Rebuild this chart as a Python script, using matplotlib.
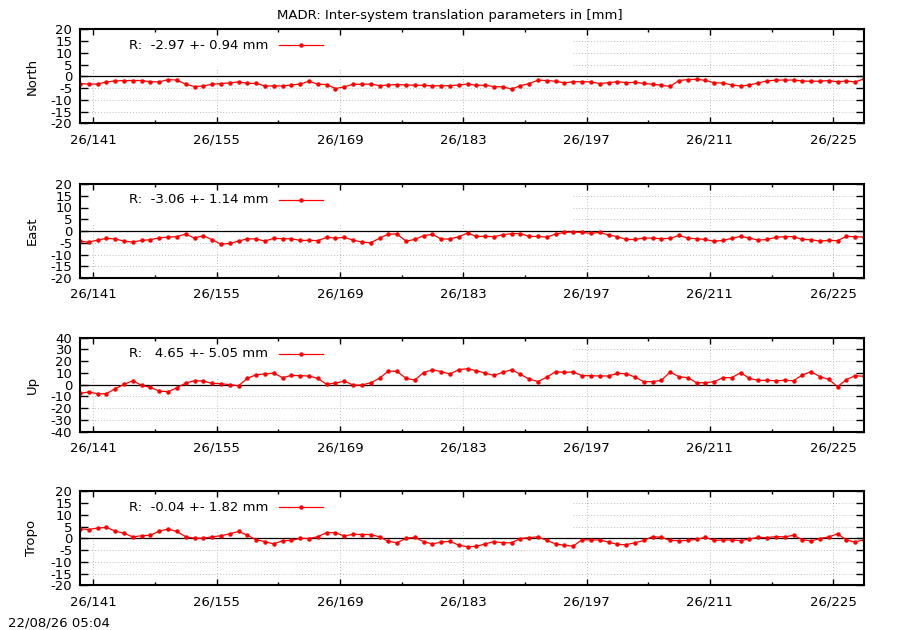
import matplotlib
matplotlib.use('Agg')
import matplotlib.pyplot as plt
import numpy as np
from matplotlib.patches import Rectangle
from matplotlib.lines import Line2D

plt.rcParams['font.family'] = ['DejaVu Sans']
FS = 9.5
plt.rcParams['font.size'] = FS

# ---------------- data ----------------
doy = np.arange(139, 229) + 0.5   # day of year (noon epochs), 2026

north = [-3.1, -3.3, -3.3, -2.4, -2.0, -1.8, -1.8, -1.8, -2.3, -2.4,
         -1.4, -1.6, -3.3, -4.4, -4.1, -3.4, -3.1, -2.8, -2.4, -3.0,
         -3.0, -4.1, -4.1, -4.1, -3.7, -3.3, -2.1, -3.4, -3.5, -5.2,
         -4.5, -3.4, -3.4, -3.3, -4.0, -3.7, -3.5, -3.7, -3.8, -3.8,
         -4.1, -4.0, -4.0, -3.7, -3.3, -3.8, -3.8, -4.4, -4.5, -5.4,
         -4.0, -3.1, -1.6, -1.8, -2.1, -2.8, -2.3, -2.3, -2.4, -3.1,
         -2.7, -2.3, -2.7, -2.6, -3.0, -3.4, -3.8, -4.3, -1.8, -1.4,
         -1.3, -1.7, -2.8, -2.8, -3.7, -4.1, -3.7, -2.8, -2.0, -1.6,
         -1.6, -1.6, -2.0, -2.1, -2.1, -1.8, -2.3, -2.0, -2.4, -1.1]

east = [-4.4, -4.7, -3.9, -3.1, -3.4, -4.3, -4.7, -4.0, -3.7, -2.9,
        -2.6, -2.4, -1.3, -3.0, -2.0, -3.7, -5.6, -5.3, -4.3, -3.3,
        -3.4, -4.3, -3.1, -3.3, -3.3, -4.0, -4.0, -4.1, -2.7, -3.0,
        -2.7, -3.9, -4.7, -5.0, -3.1, -1.3, -1.3, -4.3, -3.6, -2.0,
        -1.4, -3.4, -3.4, -2.4, -0.9, -2.3, -2.3, -2.4, -1.6, -1.1,
        -1.1, -2.3, -2.3, -2.6, -1.3, -0.6, -0.4, -0.6, -1.0, -0.6,
        -1.7, -2.4, -3.6, -3.6, -3.0, -3.0, -3.3, -3.1, -1.9, -3.0,
        -3.3, -3.6, -4.4, -4.0, -3.1, -2.3, -3.0, -3.9, -3.6, -2.7,
        -2.4, -2.4, -3.6, -3.7, -4.3, -4.0, -4.1, -2.3, -2.4, -2.6]

up = [-7.4, -6.2, -7.7, -7.7, -3.4, 0.3, 3.4, -0.6, -2.3, -5.4,
      -6.0, -2.6, 1.4, 3.4, 3.1, 1.1, 0.9, 0.0, -0.9, 5.4,
      8.5, 9.1, 9.9, 6.0, 7.9, 7.7, 7.4, 5.4, 0.3, 1.4,
      3.1, -0.3, -0.3, 1.7, 5.4, 11.6, 11.3, 5.4, 4.0, 10.2,
      12.8, 11.1, 9.1, 12.8, 13.6, 11.9, 9.9, 7.9, 10.5, 12.8,
      8.8, 4.8, 2.6, 6.5, 11.1, 10.5, 10.8, 7.7, 7.7, 7.4,
      7.4, 9.6, 9.4, 6.5, 2.6, 2.6, 3.7, 10.8, 6.8, 6.0,
      1.7, 1.7, 2.6, 6.0, 6.0, 10.2, 5.4, 3.7, 3.7, 3.4,
      3.7, 3.4, 8.2, 11.1, 6.8, 4.5, -1.7, 4.3, 7.7, 7.1]

tropo = [4.1, 3.7, 4.4, 4.6, 3.1, 2.1, 0.6, 1.1, 1.3, 3.1,
         3.9, 2.9, 0.7, 0.0, 0.1, 0.6, 1.1, 1.9, 2.9, 1.3,
         -0.6, -1.4, -2.4, -1.0, -0.9, 0.0, -0.1, 0.7, 2.4, 2.4,
         1.0, 1.7, 1.6, 1.6, 0.6, -1.3, -1.9, 0.0, 0.4, -1.4,
         -2.4, -1.6, -1.3, -2.9, -3.6, -3.4, -2.4, -1.4, -1.9, -1.9,
         -0.1, 0.3, 0.6, -0.9, -2.4, -3.0, -3.3, -0.6, -0.7, -0.7,
         -1.6, -2.6, -2.7, -1.9, -0.9, 0.7, 0.4, -0.9, -1.0, -0.9,
         -0.4, 0.4, -0.9, -0.7, -0.7, -1.0, -0.3, 0.4, 0.3, 0.7,
         0.6, 1.3, -0.6, -1.1, -0.1, 0.6, 1.9, -0.7, -1.6, -0.6]

names = ['North', 'East', 'Up', 'Tropo']
series = [north, east, up, tropo]
means = [-2.97, -3.06, 4.65, -0.04]
sigmas = [0.94, 1.14, 5.05, 1.82]
ylims = [20, 20, 40, 20]
ysteps = [5, 5, 10, 5]

major_days = [141, 155, 169, 183, 197, 211, 225]
major_labels = ['26/141', '26/155', '26/169', '26/183', '26/197', '26/211', '26/225']
minor_days = [148, 162, 176, 190, 204, 218]

title = 'MADR: Inter-system translation parameters in [mm]'
stamp = '22/08/26 05:04'

# ---------------- figure ----------------
W, H = 900, 630
fig = plt.figure(figsize=(W / 100, H / 100), dpi=100)

tops = [29.3, 184.0, 337.7, 491.3]
ax_h = 94.0
ax_l, ax_w = 80.0, 784.0

grid_kw = dict(color='#a8a8a8', lw=0.6, ls=(0, (1, 2.5)), zorder=0.3)
key_y = 0.83

for i in range(4):
    ax = fig.add_axes([ax_l / W, (H - tops[i] - ax_h) / H, ax_w / W, ax_h / H])
    lim, step = ylims[i], ysteps[i]
    ax.set_xlim(139.5, 228.5)
    ax.set_ylim(-lim, lim)
    yt = np.arange(-lim, lim + step / 2, step)
    ax.set_yticks(yt)
    ax.set_yticklabels([f'{int(v)}' for v in yt])
    ax.set_xticks(major_days)
    ax.set_xticklabels(major_labels)
    ax.set_xticks(minor_days, minor=True)
    ax.tick_params(axis='both', which='both', direction='in', top=True, right=True,
                   labelsize=FS, colors='black')
    ax.tick_params(axis='y', which='major', length=5.8, width=1.0, pad=5.5)
    ax.tick_params(axis='x', which='major', length=4.3, width=1.0, pad=7.0)
    ax.tick_params(axis='x', which='minor', length=2.2, width=1.0)
    for sp in ax.spines.values():
        sp.set_linewidth(1.5)
        sp.set_zorder(5)

    # dotted grid
    for v in yt[1:-1]:
        if v != 0:
            ax.axhline(v, **grid_kw)
    for d in major_days:
        ax.axvline(d, **grid_kw)
    # opaque key box hiding grid
    ax.add_patch(Rectangle((0, 0.58), 0.629, 0.42, transform=ax.transAxes,
                           facecolor='white', edgecolor='none', zorder=0.6))
    # zero line
    ax.axhline(0, color='black', lw=0.9, zorder=1)

    ax.plot(doy, series[i], color='#ff0000', lw=0.9, marker='o', ms=3.2,
            markeredgewidth=0, zorder=3)

    # key
    ax.text(0.2398, key_y, f'R: {means[i]:6.2f} +- {sigmas[i]:4.2f} mm',
            transform=ax.transAxes, ha='right', va='center', fontsize=FS)
    ax.add_line(Line2D([0.2538, 0.3099], [key_y, key_y], transform=ax.transAxes,
                       color='#ff0000', lw=0.9, zorder=3))
    ax.add_line(Line2D([0.2818], [key_y], transform=ax.transAxes, color='#ff0000',
                       marker='o', ms=3.2, markeredgewidth=0, zorder=3))

    ax.set_ylabel(names[i], va='center', fontsize=FS)
    ax.yaxis.set_label_coords((32 - ax_l) / ax_w, 0.5)

fig.text(449.7 / W, 1 - 19.3 / H, title, ha='center', va='baseline', fontsize=FS)
fig.text(8.3 / W, 1 - 627 / H, stamp, ha='left', va='baseline', fontsize=FS)

fig.savefig('out.png', dpi=100, facecolor='white')
